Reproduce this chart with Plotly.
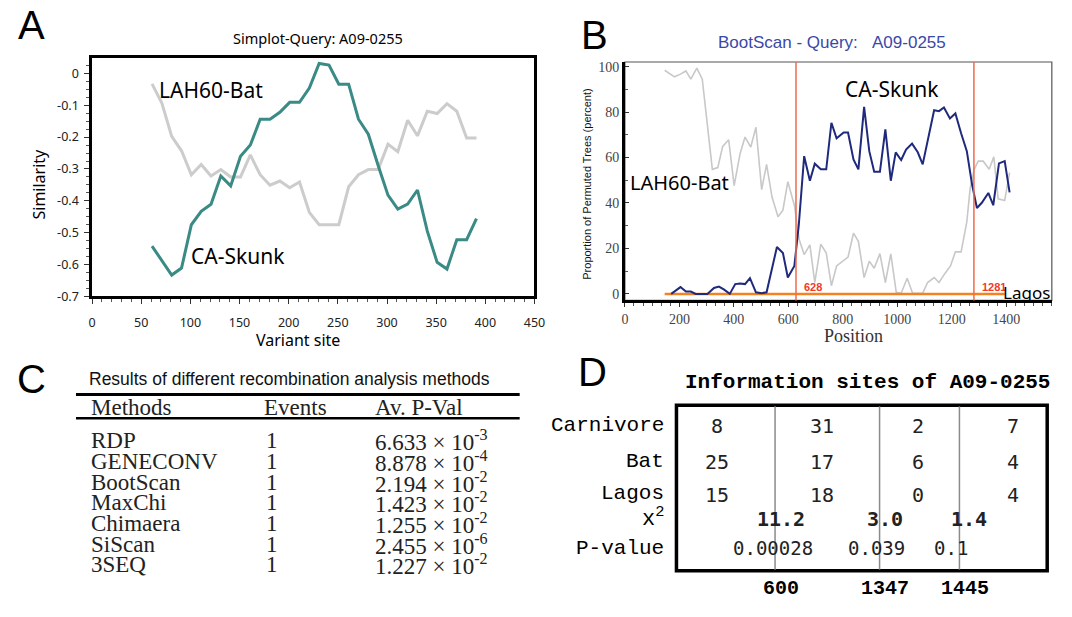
import plotly.graph_objects as go

W, H = 1072, 617

# ---------------- Panel A data (Simplot) ----------------
sites_A = [61, 71, 81, 91, 101, 111, 121, 131, 141, 151, 161, 171, 181, 191, 201, 211, 221,
           231, 241, 251, 261, 271, 281, 291, 301, 311, 321, 331, 341, 351, 361, 371, 381, 391]
skunk_A = [-0.542, -0.588, -0.633, -0.611, -0.475, -0.433, -0.411, -0.322, -0.353, -0.260,
           -0.225, -0.144, -0.144, -0.122, -0.091, -0.091, -0.046, 0.031, 0.026, -0.034,
           -0.034, -0.144, -0.191, -0.289, -0.382, -0.426, -0.410, -0.366, -0.495, -0.593,
           -0.614, -0.522, -0.522, -0.456]
bat_A = [-0.033, -0.093, -0.198, -0.243, -0.318, -0.286, -0.322, -0.302, -0.325, -0.325,
         -0.256, -0.318, -0.351, -0.338, -0.359, -0.341, -0.436, -0.475, -0.475, -0.475,
         -0.356, -0.318, -0.302, -0.302, -0.222, -0.246, -0.147, -0.196, -0.119, -0.126,
         -0.095, -0.119, -0.203, -0.203]
ytick_vals_A = [0, -0.1, -0.2, -0.3, -0.4, -0.5, -0.6, -0.7]
ytick_text_A = ["0", "-0.1", "-0.2", "-0.3", "-0.4", "-0.5", "-0.6", "-0.7"]

# ---------------- Panel B data (BootScan) ----------------
skunk_pos_B = [170, 204, 224, 242, 260, 303, 327, 345, 363, 385, 405, 423, 441, 459, 481,
               502, 520, 558, 580, 598, 622, 628, 638, 658, 679, 697, 719, 739, 758, 777,
               803, 819, 839, 857, 878, 897, 915, 936, 956, 976, 994, 1014, 1032, 1054, 1075,
               1093, 1135, 1153, 1171, 1193, 1213, 1234, 1255, 1274, 1292, 1310, 1334, 1352,
               1373, 1394, 1412]
skunk_val_B = [0, 3, 1, 1, 0, 0, 2.6, 3.2, 2, 0, 4.3, 4.6, 4.3, 6.9, 0.7,
               0.3, 0.7, 20.6, 18, 7.2, 12.3, 20, 30, 60.6, 49.8, 57.3, 54.8, 54.8, 75.3, 68.5,
               71, 71, 59.2, 54.8, 82.3, 62.8, 53.7, 53.7, 72.4, 49.8, 62.3, 58.9, 63.5, 66.1, 62.3,
               57, 80.8, 80.4, 82, 77.2, 79.4, 70.7, 62.8, 48.3, 37.8, 40.1, 44.4, 39,
               57.4, 58.4, 44.7]
bat_pos_B = [146, 182, 204, 224, 242, 264, 284, 321, 341, 359, 381, 401, 423, 441, 462,
             481, 502, 520, 540, 562, 580, 598, 622, 630, 640, 658, 679, 697, 719, 739,
             758, 777, 819, 839, 857, 878, 897, 915, 936, 956, 976, 996, 1014, 1036, 1056,
             1093, 1111, 1135, 1153, 1174, 1195, 1213, 1234, 1255, 1267, 1282, 1297, 1315,
             1337, 1354, 1370, 1394, 1412]
bat_val_B = [98.4, 95.5, 96.7, 98.1, 94.5, 99.3, 94.5, 54.8, 55.6, 64.9, 67.8, 47.6, 61.8, 69, 64.6,
             73.3, 45.9, 57, 42.6, 33.9, 36.8, 49.4, 39, 31.7, 23.8, 17.3, 21.6, 5, 21.9, 18,
             3.6, 12.3, 16.2, 26.7, 23.1, 7.2, 14.4, 11.3, 17.7, 5, 17.6, 0.7, 0.3, 6.9, 0.3,
             0.3, 5, 7.2, 5, 8.9, 12.3, 18.5, 18.5, 31.7, 46.2, 54.8, 58.4, 58.4,
             54.8, 60.3, 41.8, 41.1, 53.4]
lagos_pos_B = [146, 1394]
lagos_val_B = [0, 0]
breakpoints_B = [628, 1281]
xtick_vals_B = [0, 200, 400, 600, 800, 1000, 1200, 1400]
ytick_vals_B = [0, 20, 40, 60, 80, 100]

# ---------------- Panel C data (table) ----------------
methods_C = ["RDP", "GENECONV", "BootScan", "MaxChi", "Chimaera", "SiScan", "3SEQ"]
events_C = [1, 1, 1, 1, 1, 1, 1]
pval_mant_C = ["6.633", "8.878", "2.194", "1.423", "1.255", "2.455", "1.227"]
pval_exp_C = [-3, -4, -2, -2, -2, -6, -2]
headers_C = ["Methods", "Events", "Av. P-Val"]

# ---------------- Panel D data (information sites) ----------------
rows_D = ["Carnivore", "Bat", "Lagos"]
counts_D = [[8, 31, 2, 7], [25, 17, 6, 4], [15, 18, 0, 4]]
chi2_D = ["11.2", "3.0", "1.4"]
pvalue_D = ["0.00028", "0.039", "0.1"]
breaks_D = ["600", "1347", "1445"]

# ---------------- helpers ----------------
def X(p):
    return p / W


def Y(p):
    return 1 - p / H


fig = go.Figure()


def ann(text, x, y, size, family="Noto Sans", color="black", xanchor="center",
        yanchor="middle", weight="normal", angle=0):
    fig.add_annotation(x=X(x), y=Y(y), xref="paper", yref="paper", text=text,
                       showarrow=False, xanchor=xanchor, yanchor=yanchor, textangle=angle,
                       borderpad=0,
                       font=dict(family=family, size=size, color=color, weight=weight))


def pline(x0, y0, x1, y1, width, color="black"):
    fig.add_shape(type="line", xref="paper", yref="paper", x0=X(x0), y0=Y(y0),
                  x1=X(x1), y1=Y(y1), line=dict(color=color, width=width))


# ---------------- Panel A traces ----------------
fig.add_trace(go.Scatter(x=sites_A, y=bat_A, mode="lines", line=dict(color="#cccccc", width=3),
                         xaxis="x", yaxis="y", showlegend=False, name="LAH60-Bat"))
fig.add_trace(go.Scatter(x=sites_A, y=skunk_A, mode="lines", line=dict(color="#3a8a85", width=3),
                         xaxis="x", yaxis="y", showlegend=False, name="CA-Skunk"))

# ---------------- Panel B traces ----------------
fig.add_trace(go.Scatter(x=bat_pos_B, y=bat_val_B, mode="lines", line=dict(color="#c8c8c8", width=1.6),
                         xaxis="x2", yaxis="y2", showlegend=False, name="LAH60-Bat"))
fig.add_trace(go.Scatter(x=lagos_pos_B, y=lagos_val_B, mode="lines", line=dict(color="#f58220", width=2.5),
                         xaxis="x2", yaxis="y2", showlegend=False, name="Lagos"))
fig.add_trace(go.Scatter(x=skunk_pos_B, y=skunk_val_B, mode="lines", line=dict(color="#1f2a7c", width=2),
                         xaxis="x2", yaxis="y2", showlegend=False, name="CA-Skunk"))

for bp in breakpoints_B:
    fig.add_shape(type="line", xref="x2", yref="y2 domain", x0=bp, x1=bp, y0=0, y1=1,
                  line=dict(color="#f26a4b", width=1.5))
    fig.add_annotation(x=bp, y=0, xref="x2", yref="y2", text=str(bp), showarrow=False,
                       xanchor="left", yanchor="bottom", xshift=6, yshift=-1,
                       font=dict(family="Liberation Sans", size=11, color="#f03a2a", weight="bold"))

# frame of panel B (thin top/right)
fig.add_shape(type="rect", xref="x2 domain", yref="y2 domain", x0=0, x1=1, y0=0, y1=1,
              line=dict(color="#555555", width=1.2), layer="below")

axA_font = dict(family="Noto Sans", size=12.5, color="#222222")
axB_font = dict(family="Liberation Serif", size=14, color="#444444")

fig.update_layout(
    width=W, height=H, margin=dict(l=0, r=0, t=0, b=0),
    paper_bgcolor="white", plot_bgcolor="white",
    xaxis=dict(domain=[X(89.3), X(538)], range=[0, 450], dtick=50, tick0=0,
               showgrid=False, zeroline=False, showline=True, linecolor="black", linewidth=2.5,
               mirror=True, ticks="outside", ticklen=5, tickcolor="#333", tickfont=axA_font,
               ticklabelstandoff=8,
               minor=dict(dtick=10, ticks="outside", ticklen=3, tickcolor="#555")),
    yaxis=dict(domain=[Y(299.3), Y(57.3)], range=[-0.7, 0.047], tickvals=ytick_vals_A,
               ticktext=ytick_text_A, showgrid=False, zeroline=False, showline=True,
               linecolor="black", linewidth=2.5, mirror=True, ticks="outside", ticklen=5,
               tickcolor="#333", tickfont=axA_font, ticklabelstandoff=3,
               minor=dict(dtick=0.025, ticks="outside", ticklen=3, tickcolor="#555")),
    xaxis2=dict(domain=[X(629.7), X(1062.7)], range=[0, 1567], tickvals=xtick_vals_B,
                showgrid=False, zeroline=False, showline=True, linecolor="black", linewidth=2.5,
                ticks="outside", ticklen=4, tickcolor="#333", tickfont=axB_font,
                minor=dict(dtick=200 / 6, tick0=0, ticks="outside", ticklen=3, tickcolor="#555"),
                anchor="y2"),
    yaxis2=dict(domain=[Y(303.3), Y(61)], range=[-2.86, 102.03], tickvals=ytick_vals_B,
                showgrid=False, zeroline=False, showline=True, linecolor="black", linewidth=2.5,
                ticks="inside", ticklen=4, tickcolor="#333", tickfont=axB_font,
                minor=dict(dtick=10, ticks="inside", ticklen=3, tickcolor="#555"),
                anchor="x2"),
)

# ---------------- Panel letters ----------------
ann("A", 28, 23, 40, family="Liberation Sans")
ann("B", 599, 34, 40, family="Liberation Sans")
ann("C", 28, 383, 40, family="Liberation Sans")
ann("D", 597, 376, 40, family="Liberation Sans")

# ---------------- Panel A texts ----------------
ann("Simplot-Query: A09-0255", 318, 37, 14.5)
ann("Similarity", 35, 185, 16, angle=-90)
ann("Variant site", 298, 344, 16)
ann("LAH60-Bat", 210, 89, 21)
ann("CA-Skunk", 237, 258, 21)

# ---------------- Panel B texts ----------------
ann("BootScan - Query:&nbsp;&nbsp;&nbsp;A09-0255", 840, 41, 17, family="Liberation Sans", color="#3a48a8")
ann("Proportion of Permuted Trees (percent)", 591, 185, 11,
    family="Liberation Sans", color="#111", angle=-90)
ann("Position", 862, 339, 18, family="Liberation Serif", color="#333")
ann("CA-Skunk", 901, 88, 21)
ann("LAH60-Bat", 685, 183, 20)
ann("Lagos", 1012, 295, 17, xanchor="left")

# ---------------- Panel C table ----------------
ann("Results of different recombination analysis methods", 290, 383, 17.5,
    family="Liberation Sans", color="#111")
pline(73, 399, 523, 399, 3)
pline(73, 423, 523, 423, 2.5)
col_x_C = [87, 263, 375]
for cx, htxt in zip(col_x_C, headers_C):
    ann(htxt, cx, 412, 23, family="Liberation Serif", color="#222", xanchor="left")
row_y_C = [446, 467, 488, 509, 530, 551, 572]
for ry, m, e, mant, ex in zip(row_y_C, methods_C, events_C, pval_mant_C, pval_exp_C):
    ann(m, col_x_C[0], ry, 23, family="Liberation Serif", color="#222", xanchor="left")
    ann(str(e), col_x_C[1] + 2, ry, 23, family="Liberation Serif", color="#222", xanchor="left")
    ann(f"{mant} × 10<sup>{ex}</sup>", col_x_C[2], ry, 23, family="Liberation Serif",
        color="#222", xanchor="left")

# ---------------- Panel D ----------------
ann("Information sites of A09-0255", 876, 387, 21, family="Liberation Mono", weight="bold")
fig.add_shape(type="rect", xref="paper", yref="paper", x0=X(682), x1=X(1058), y0=Y(578), y1=Y(410),
              line=dict(color="black", width=3.5))
break_x_D = [782, 888, 969]
for bx in break_x_D:
    pline(bx, 411, bx, 577, 1.5, color="#8a8a8a")
label_y_D = [430, 467, 500]
for ly, lab in zip(label_y_D, rows_D):
    ann(lab, 670, ly, 21, family="Liberation Mono", xanchor="right")
ann("x<sup>2</sup>", 670, 524, 22, family="Liberation Mono", xanchor="right")
ann("P-value", 670, 555, 21, family="Liberation Mono", xanchor="right")
count_x_D = [723, 830, 927, 1023]
for ly, row in zip(label_y_D, counts_D):
    for cx, v in zip(count_x_D, row):
        ann(str(v), cx, ly + 1, 20, family="DejaVu Sans Mono", color="#222")
chi_x_D = [788, 893, 979]
for cx, v in zip(chi_x_D, chi2_D):
    ann(v, cx, 526, 20, family="DejaVu Sans Mono", color="#222", weight="bold")
p_x_D = [780, 885, 960]
for cx, v in zip(p_x_D, pvalue_D):
    ann(v, cx, 555, 19, family="DejaVu Sans Mono", color="#222")
for bx, v in zip(break_x_D, breaks_D):
    ann(v, bx + 6, 596, 20, family="Liberation Mono", weight="bold")

fig.write_html("out.html", config={"displayModeBar": False},
               post_script="document.body.style.margin='0';")
